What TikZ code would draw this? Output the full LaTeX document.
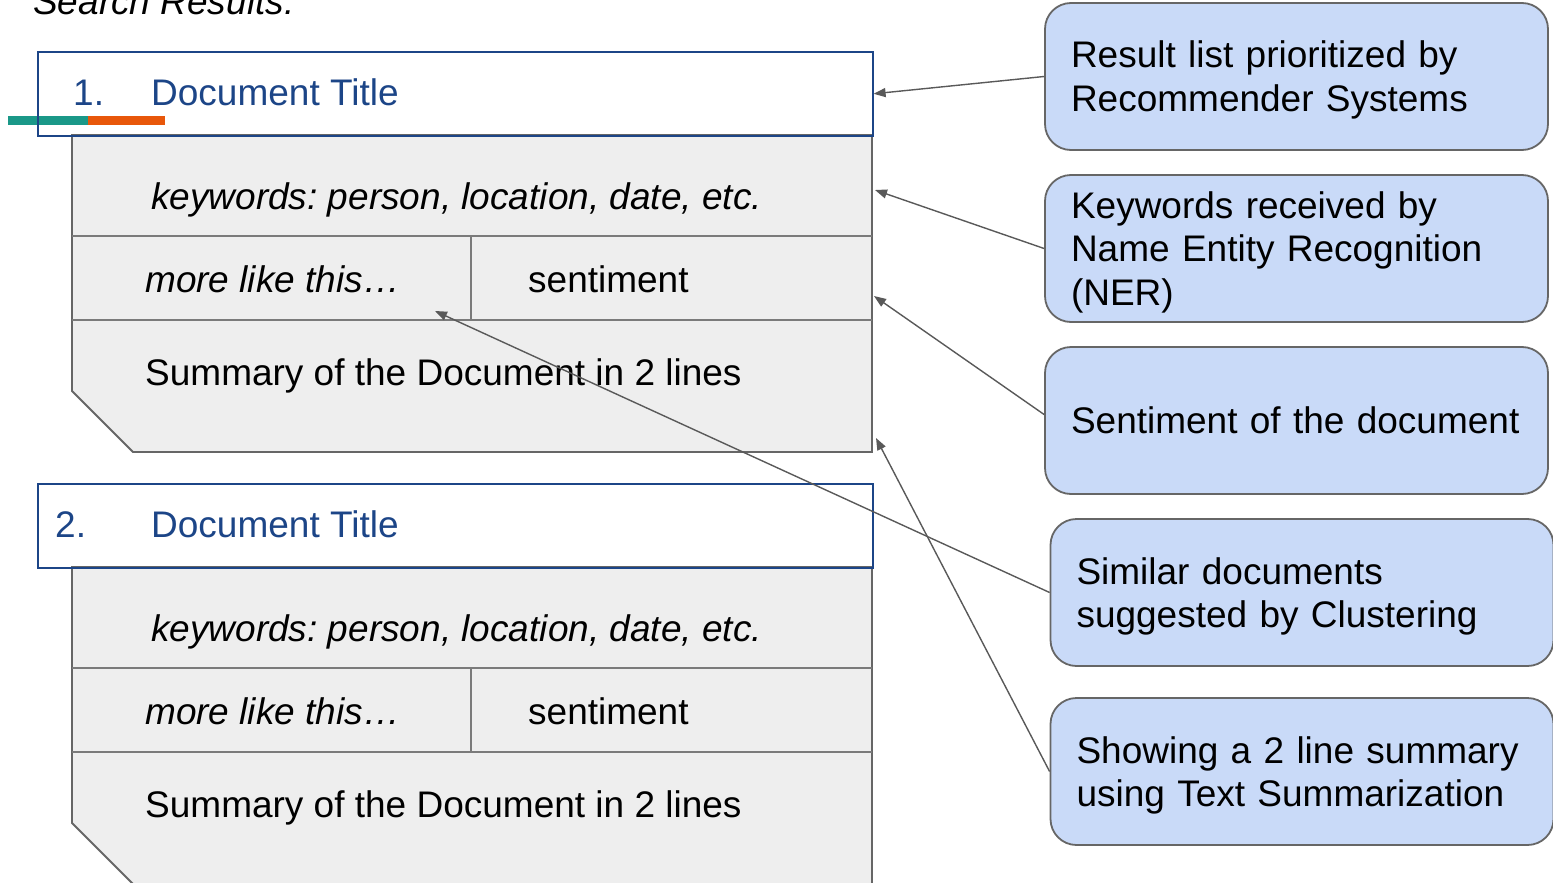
\documentclass[tikz,border=0pt]{standalone}
\usepackage{fontspec}
\setmainfont{Liberation Sans}
\frenchspacing
\usetikzlibrary{arrows.meta, positioning}

\definecolor{titleblue}{RGB}{28,69,135}
\definecolor{cardgray}{RGB}{238,238,238}
\definecolor{edgegray}{RGB}{102,102,102}
\definecolor{linegray}{RGB}{122,122,122}
\definecolor{notefill}{RGB}{201,218,248}
\definecolor{barteal}{RGB}{26,152,136}
\definecolor{barorange}{RGB}{232,87,10}
\definecolor{arrowgray}{RGB}{89,89,89}

\newcommand{\docfont}{\fontsize{37}{43.5}\selectfont}
\newcommand{\notestrut}{\rule[-8.5pt]{0pt}{43.5pt}}

\tikzset{
  celltext/.style={font=\docfont, anchor=base west, inner sep=0pt},
  titlebox/.style={draw=titleblue, line width=1.6pt, minimum width=835pt,
    minimum height=84pt, anchor=north west, inner sep=0pt},
  infobox/.style={draw=edgegray, line width=1.8pt, fill=notefill,
    rounded corners=26pt, minimum height=147pt, text width=451pt,
    align=left, inner xsep=26pt, inner ysep=0pt, font=\docfont,
    execute at begin node=\notestrut, execute at end node=\notestrut},
  notearrow/.style={draw=arrowgray, line width=1.4pt,
    -{Triangle[length=12pt,width=9pt]}},
}

\begin{document}
\begin{tikzpicture}[x=1pt, y=-1pt]
    \useasboundingbox (0,0) rectangle (1553,883);
    \clip (0,0) rectangle (1553,883);

    % encabezado
    \node [celltext, font=\docfont\itshape] (heading) at (33,15) {Search Results:};
    \fill [barteal] (8,116) rectangle (88,125);
    \fill [barorange] (88,116) rectangle (165,125);

    % resultados
    \foreach \i/\nx/\dy in {1/73/0, 2/55/432} {
      \begin{scope}[yshift=-\dy pt]
        \draw [fill=cardgray, draw=edgegray, line width=1.8pt]
          (72,135) -- (872,135) -- (872,452) -- (133,452) -- (72,391) -- cycle;
        \draw [linegray, line width=1.6pt]
          (72,236) -- (872,236) (72,320) -- (872,320) (471,236) -- (471,320);
        \node [titlebox] (title\i) at (37,51) {};
        \node [celltext, text=titleblue] (num\i) at (\nx,105) {\i.};
        \node [celltext, text=titleblue] (name\i) at (151,105) {Document Title};
        \node [celltext, font=\docfont\itshape] (kw\i) at (151,209) {keywords: person, location, date, etc.};
        \node [celltext, font=\docfont\itshape] (more\i) at (145,292) {more like this…};
        \node [celltext] (senti\i) at (528,292) {sentiment};
        \node [celltext] (sum\i) at (145,385) {Summary of the Document in 2 lines};
      \end{scope}
    }

    % notas
    \node [infobox] (rec) at (1296.5,76.5) {Result list prioritized by\\Recommender Systems};
    \node [infobox] (ner) at (1296.5,248.5) {Keywords received by\\Name Entity Recognition\\(NER)};
    \node [infobox] (sent) at (1296.5,420.5) {Sentiment of the document};
    \node [infobox] (clus) at (1302,592.5) {Similar documents\\suggested by Clustering};
    \node [infobox] (summ) at (1302,771.5) {Showing a 2 line summary\\using Text Summarization};

    % flechas
    \coordinate (kwend) at (875,190);
    \coordinate (sentend) at (874,296);
    \coordinate (moreend) at (435,311);
    \coordinate (sumend) at (876,438);
    \draw [notearrow] (rec.west) -- (title1.east);
    \draw [notearrow] (ner.west) -- (kwend);
    \draw [notearrow] ([yshift=6pt]sent.west) -- (sentend);
    \draw [notearrow] (clus.west) -- (moreend);
    \draw [notearrow] (summ.west) -- (sumend);
\end{tikzpicture}
\end{document}
